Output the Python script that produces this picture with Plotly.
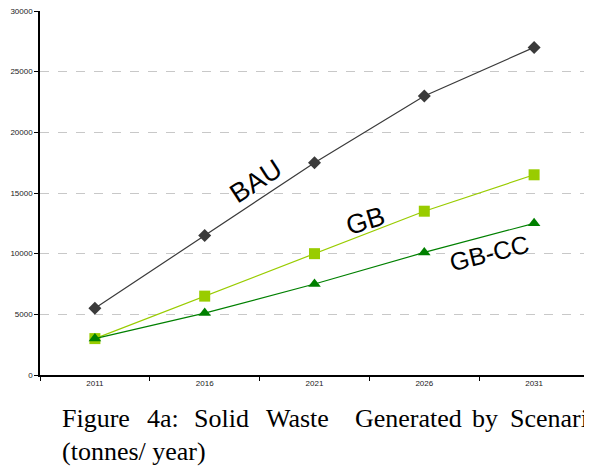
import plotly.graph_objects as go

years = ["2011", "2016", "2021", "2026", "2031"]
bau = [5500, 11500, 17500, 23000, 27000]
gb = [3000, 6500, 10000, 13500, 16500]
gbcc = [3000, 5100, 7500, 10100, 12500]
end_labels = ["27,000 t/yr", "16,500 t/yr", "12,500 t/yr"]
y_ticks = [0, 5000, 10000, 15000, 20000, 25000, 30000]
y_ticktext = ["0", "5000", "10000", "15000", "20000", "25000", "30000"]

# the page body adds an 8px offset; compensate
OFF = 8
W, H = 592, 466
ML, MT = 40 - OFF, 11 - OFF
MR = W - (589 - OFF)
MB = H - (375 - OFF)
PW = W - ML - MR
PH = H - MT - MB

fig = go.Figure()
fig.add_trace(go.Scatter(x=years, y=bau, mode="lines+markers", name="BAU",
                         line=dict(color="#3a3a3a", width=1.2),
                         marker=dict(symbol="diamond", size=10, color="#3a3a3a")))
fig.add_trace(go.Scatter(x=years, y=gb, mode="lines+markers", name="GB",
                         line=dict(color="#99cc00", width=1.2),
                         marker=dict(symbol="square", size=11, color="#99cc00")))
fig.add_trace(go.Scatter(x=years, y=gbcc, mode="lines+markers", name="GB-CC",
                         line=dict(color="#008000", width=1.2),
                         marker=dict(symbol="triangle-up", size=11, color="#008000")))

annos = []
for series, lab in zip([bau, gb, gbcc], end_labels):
    annos.append(dict(x=years[-1], y=series[-1], text=lab, showarrow=False,
                      xanchor="left", xshift=7, yshift=1,
                      font=dict(family="Liberation Sans, Arial", size=8, color="#222")))

big = dict(family="Liberation Sans Narrow, Arial Narrow, Liberation Sans, Arial", color="black")
annos.append(dict(x=1.47, y=16000, text="BAU", showarrow=False, textangle=-33,
                  font=dict(size=27, **big)))
annos.append(dict(x=2.46, y=12700, text="GB", showarrow=False, textangle=-17,
                  font=dict(size=27, **big)))
annos.append(dict(x=3.59, y=10050, text="GB-CC", showarrow=False, textangle=-14,
                  font=dict(size=25, **big)))

serif = dict(family="Liberation Serif, Times New Roman, serif", size=26, color="black")
words = [("Figure", 60), ("4a:", 145), ("Solid", 192), ("Waste", 264),
         ("Generated", 353), ("by", 470), ("Scenario", 508)]
def py(ypix):
    return ((H - MB) - (ypix - OFF)) / PH
def px(xpix):
    return ((xpix - OFF) - ML) / PW
for w, x0 in words:
    annos.append(dict(xref="paper", yref="paper", x=px(x0), y=py(418),
                      text=w, showarrow=False, xanchor="left", yanchor="middle", font=serif))
annos.append(dict(xref="paper", yref="paper", x=px(60), y=py(452),
                  text="(tonnes/ year)", showarrow=False, xanchor="left", yanchor="middle", font=serif))

fig.update_layout(
    width=W, height=H,
    margin=dict(l=ML, r=MR, t=MT, b=MB, autoexpand=False),
    paper_bgcolor="white", plot_bgcolor="white",
    showlegend=False,
    annotations=annos,
    xaxis=dict(type="category", range=[-0.5, 4.5], showgrid=False,
               showline=True, linecolor="black", linewidth=1.5,
               ticks="outside", tickson="boundaries", ticklen=4, tickcolor="black",
               tickfont=dict(family="Liberation Sans, Arial", size=8, color="#222")),
    yaxis=dict(range=[0, 30000], tickvals=y_ticks, ticktext=y_ticktext, showgrid=True,
               gridcolor="#c8c8c8", griddash="dash", gridwidth=1,
               showline=True, linecolor="black", linewidth=1.5,
               ticks="outside", ticklen=4, tickcolor="black", zeroline=False,
               ticklabeloverflow="allow",
               tickfont=dict(family="Liberation Sans, Arial", size=8, color="#222")),
)

fig.write_html("out.html")
